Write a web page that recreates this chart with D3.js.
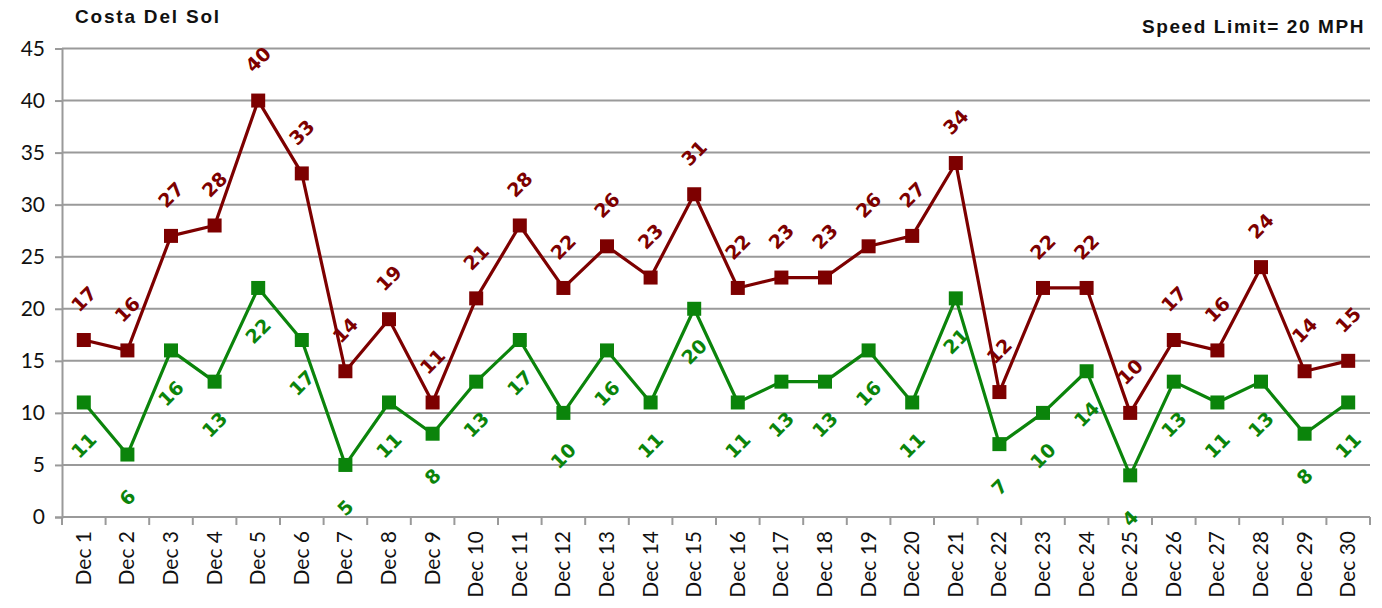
<!DOCTYPE html>
<html>
<head>
<meta charset="utf-8">
<script src="https://cdn.jsdelivr.net/npm/d3@7"></script>
<style>
  html, body { margin: 0; padding: 0; background: #fff; }
  svg { display: block; }
</style>
</head>
<body>
<svg id="chart" width="1382" height="608"></svg>
<script>
// Daily speed readings, Costa Del Sol, December
const days = ["Dec 1","Dec 2","Dec 3","Dec 4","Dec 5","Dec 6","Dec 7","Dec 8","Dec 9","Dec 10",
  "Dec 11","Dec 12","Dec 13","Dec 14","Dec 15","Dec 16","Dec 17","Dec 18","Dec 19","Dec 20",
  "Dec 21","Dec 22","Dec 23","Dec 24","Dec 25","Dec 26","Dec 27","Dec 28","Dec 29","Dec 30"];
const maxSpeed = [17,16,27,28,40,33,14,19,11,21,28,22,26,23,31,22,23,23,26,27,34,12,22,22,10,17,16,24,14,15];
const avgSpeed = [11,6,16,13,22,17,5,11,8,13,17,10,16,11,20,11,13,13,16,11,21,7,10,14,4,13,11,13,8,11];
const yTicks = [0,5,10,15,20,25,30,35,40,45];

const svg = d3.select("#chart");
const plotLeft = 62, plotRight = 1370, plotTop = 48.5, plotBottom = 517;

const x = d3.scaleBand().domain(days).range([plotLeft, plotRight]);
const y = d3.scaleLinear().domain([0, 45]).range([plotBottom, plotTop]);
const cx = d => x(d) + x.bandwidth() / 2;

const gridColor = "#9a9a9a";

// horizontal gridlines
svg.append("g").selectAll("line").data(yTicks.filter(t => t > 0)).join("line")
  .attr("x1", plotLeft).attr("x2", plotRight)
  .attr("y1", d => y(d)).attr("y2", d => y(d))
  .attr("stroke", gridColor).attr("stroke-width", 2);

// y axis
const yAxis = svg.append("g").attr("transform", `translate(${plotLeft},0)`)
  .call(d3.axisLeft(y).tickValues(yTicks).tickSize(7).tickPadding(10));
yAxis.select(".domain").attr("stroke", gridColor).attr("stroke-width", 2);
yAxis.selectAll(".tick line").attr("stroke", gridColor).attr("stroke-width", 2);
yAxis.selectAll(".tick text")
  .attr("font-family", "Lato, 'Open Sans', sans-serif")
  .attr("font-size", 21).attr("fill", "#111");

// x axis: ticks at category boundaries
const xg = svg.append("g").attr("transform", `translate(0,${plotBottom})`);
xg.append("line").attr("x1", plotLeft).attr("x2", plotRight).attr("stroke", gridColor).attr("stroke-width", 2);
xg.selectAll("line.tk").data(d3.range(days.length + 1)).join("line")
  .attr("class", "tk")
  .attr("x1", i => plotLeft + i * x.step()).attr("x2", i => plotLeft + i * x.step())
  .attr("y1", 0).attr("y2", 8)
  .attr("stroke", gridColor).attr("stroke-width", 2);
xg.selectAll("text").data(days).join("text")
  .attr("transform", d => `translate(${cx(d) + 7},14) rotate(-90)`)
  .attr("text-anchor", "end")
  .attr("font-family", "Lato, 'Open Sans', sans-serif")
  .attr("font-size", 21).attr("fill", "#111")
  .text(d => d);

// series
const series = [
  { values: maxSpeed, color: "#7d0000", offset: -41 },
  { values: avgSpeed, color: "#0b840b", offset: 43 }
];

series.forEach(s => {
  const pts = days.map((d, i) => ({ d, v: s.values[i] }));
  // value labels
  svg.append("g").selectAll("text").data(pts).join("text")
    .attr("transform", p => `translate(${cx(p.d)},${y(p.v) + s.offset}) rotate(-45)`)
    .attr("text-anchor", "middle").attr("dy", "0.35em")
    .attr("font-family", "'DejaVu Sans', Verdana, sans-serif")
    .attr("font-weight", "bold").attr("font-size", 19)
    .attr("fill", s.color)
    .text(p => p.v);
});

series.forEach(s => {
  const pts = days.map((d, i) => ({ d, v: s.values[i] }));
  svg.append("path").datum(pts)
    .attr("d", d3.line().x(p => cx(p.d)).y(p => y(p.v)))
    .attr("fill", "none").attr("stroke", s.color).attr("stroke-width", 3.2)
    .attr("stroke-linejoin", "round");
  svg.append("g").selectAll("rect").data(pts).join("rect")
    .attr("x", p => cx(p.d) - 7).attr("y", p => y(p.v) - 7)
    .attr("width", 14).attr("height", 14)
    .attr("fill", s.color);
});

// titles
svg.append("text").attr("x", 75).attr("y", 23)
  .attr("font-family", "'Liberation Sans', Arial, sans-serif")
  .attr("font-weight", "bold").attr("font-size", 19).attr("letter-spacing", 1.8)
  .attr("fill", "#111")
  .text("Costa Del Sol");
svg.append("text").attr("x", 1365).attr("y", 33).attr("text-anchor", "end")
  .attr("font-family", "'Liberation Sans', Arial, sans-serif")
  .attr("font-weight", "bold").attr("font-size", 19).attr("letter-spacing", 1.6)
  .attr("fill", "#111")
  .text("Speed Limit= 20 MPH");
</script>
</body>
</html>
